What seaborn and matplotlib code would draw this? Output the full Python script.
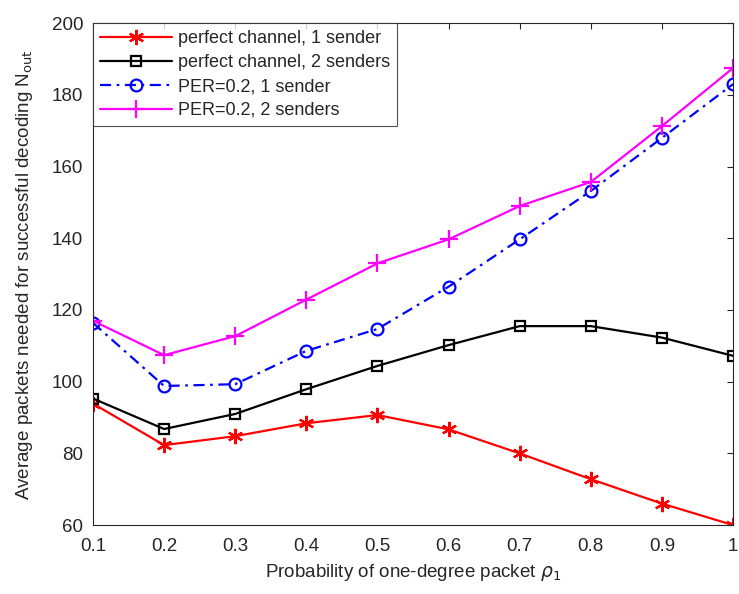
import matplotlib
matplotlib.use("Agg")
import matplotlib.pyplot as plt
import seaborn as sns
import pandas as pd

rho = [0.1, 0.2, 0.3, 0.4, 0.5, 0.6, 0.7, 0.8, 0.9, 1.0]
perfect_1 = [93.9, 82.3, 84.8, 88.4, 90.7, 86.7, 80.0, 72.8, 66.0, 60.0]
perfect_2 = [95.3, 86.8, 91.0, 97.9, 104.4, 110.2, 115.5, 115.5, 112.3, 107.2]
per_1 = [116.4, 98.8, 99.3, 108.6, 114.7, 126.5, 139.7, 153.2, 168.0, 183.0]
per_2 = [117.0, 107.4, 112.7, 122.9, 133.0, 139.7, 149.0, 155.7, 171.3, 187.5]
labels = ["perfect channel, 1 sender", "perfect channel, 2 senders",
          "PER=0.2, 1 sender", "PER=0.2, 2 senders"]
xtick_labels = ["0.1", "0.2", "0.3", "0.4", "0.5", "0.6", "0.7", "0.8", "0.9", "1"]
yticks = [60, 80, 100, 120, 140, 160, 180, 200]

sns.set_theme(style="white")
plt.rcParams['font.family'] = ['Liberation Sans', 'DejaVu Sans']
plt.rcParams['mathtext.fontset'] = 'dejavusans'

fig = plt.figure(figsize=(7.39, 5.94), dpi=100)
ax = fig.add_axes([0.1258, 0.116, 0.8662, 0.845])

series = [perfect_1, perfect_2, per_1, per_2]
styles = [
    dict(color=(1, 0, 0), marker=(6, 2, 0), markersize=11, linestyle='-'),
    dict(color=(0, 0, 0), marker='s', markersize=7.5, linestyle='-'),
    dict(color=(0, 0, 1), marker='o', markersize=8.5, linestyle=(0, (5, 2.5, 1.2, 2.5))),
    dict(color=(1, 0, 1), marker='+', markersize=13, linestyle='-'),
]
for vals, lab, st in zip(series, labels, styles):
    df = pd.DataFrame({"rho": rho, "N": vals})
    sns.lineplot(data=df, x="rho", y="N", ax=ax, label=lab, linewidth=1.6,
                 color=st['color'], marker=st['marker'], markersize=st['markersize'],
                 linestyle=st['linestyle'], markerfacecolor='none',
                 markeredgecolor=st['color'], markeredgewidth=1.6)

ax.set_xlim(0.1, 1.0)
ax.set_ylim(60, 200)
ax.set_xticks(rho)
ax.set_xticklabels(xtick_labels)
ax.set_yticks(yticks)
ax.tick_params(direction='in', top=True, right=True, length=4, width=0.8,
               labelsize=13.5, colors='#262626')
ax.tick_params(axis='x', pad=9)
ax.tick_params(axis='y', pad=7)
for s in ax.spines.values():
    s.set_color('#262626')
    s.set_linewidth(0.8)
ax.set_xlabel(r"Probability of one-degree packet $\rho_1$", fontsize=13.5, color='#262626', labelpad=5)
ax.set_ylabel(r"Average packets needed for successful decoding N$_{\mathrm{out}}$", fontsize=13.5,
              color='#262626', labelpad=12)

leg = ax.legend(loc='upper left', fontsize=13, handlelength=4.0, frameon=True,
                fancybox=False, borderaxespad=0.0, borderpad=0.4, labelspacing=0.38,
                handletextpad=0.3, edgecolor='#262626')
leg.get_frame().set_linewidth(0.8)

fig.savefig("out.png", dpi=100)
